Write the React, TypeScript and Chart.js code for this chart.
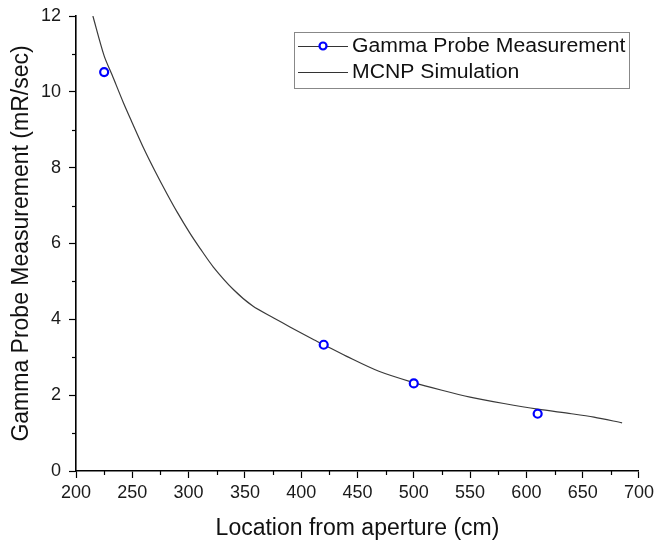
import React, { useEffect, useRef } from "react";
import { Chart, registerables } from "chart.js";

Chart.register(...registerables);

// Measured data
const measX = [225, 420, 500, 610];
const measY = [10.52, 3.33, 2.31, 1.51];

// MCNP simulation curve
const simX = [215, 225, 232, 242, 250, 260, 270, 281, 290, 301, 310, 322, 340, 357, 376, 390, 410, 420, 440, 469, 500, 525, 550, 580, 610, 640, 660, 685];
const simY = [12.0, 10.95, 10.45, 9.72, 9.18, 8.52, 7.92, 7.3, 6.82, 6.28, 5.88, 5.38, 4.78, 4.35, 4.03, 3.8, 3.48, 3.33, 3.03, 2.63, 2.33, 2.13, 1.95, 1.78, 1.63, 1.51, 1.42, 1.27];

const xTicks = [200, 250, 300, 350, 400, 450, 500, 550, 600, 650, 700];
const yTicks = [0, 2, 4, 6, 8, 10, 12];

const legendLabels = ["Gamma Probe Measurement", "MCNP Simulation"];
const xTitle = "Location from aperture (cm)";
const yTitle = "Gamma Probe Measurement (mR/sec)";

const FONT = "'Liberation Sans', Arial, sans-serif";

const minorTicksPlugin = {
  id: "minorTicks",
  afterDraw(chart: any) {
    const ctx = chart.ctx;
    const xs = chart.scales.x;
    const ys = chart.scales.y;
    ctx.save();
    ctx.strokeStyle = "#000";
    ctx.lineWidth = 1.2;
    for (let i = 0; i < xTicks.length - 1; i++) {
      const v = (xTicks[i] + xTicks[i + 1]) / 2;
      const px = Math.round(xs.getPixelForValue(v)) + 0.5;
      ctx.beginPath();
      ctx.moveTo(px, ys.bottom);
      ctx.lineTo(px, ys.bottom + 4);
      ctx.stroke();
    }
    for (let i = 0; i < yTicks.length - 1; i++) {
      const v = (yTicks[i] + yTicks[i + 1]) / 2;
      const py = Math.round(ys.getPixelForValue(v)) + 0.5;
      ctx.beginPath();
      ctx.moveTo(xs.left, py);
      ctx.lineTo(xs.left - 4, py);
      ctx.stroke();
    }
    ctx.restore();
  },
};

const legendPlugin = {
  id: "customLegend",
  afterDraw(chart: any) {
    const ctx = chart.ctx;
    ctx.save();
    const bx = 294, by = 32, bw = 335, bh = 56;
    ctx.strokeStyle = "#888";
    ctx.lineWidth = 1;
    ctx.strokeRect(bx + 0.5, by + 0.5, bw, bh);
    const rows = [46, 72];
    ctx.strokeStyle = "#333";
    ctx.lineWidth = 1;
    ctx.beginPath();
    ctx.moveTo(298, rows[0] + 0.5);
    ctx.lineTo(348, rows[0] + 0.5);
    ctx.stroke();
    ctx.fillStyle = "#fff";
    ctx.strokeStyle = "#0000ff";
    ctx.lineWidth = 2.2;
    ctx.beginPath();
    ctx.arc(323, rows[0], 3.5, 0, Math.PI * 2);
    ctx.fill();
    ctx.stroke();
    ctx.strokeStyle = "#333";
    ctx.lineWidth = 1;
    ctx.beginPath();
    ctx.moveTo(298, rows[1] + 0.5);
    ctx.lineTo(348, rows[1] + 0.5);
    ctx.stroke();
    ctx.fillStyle = "#111";
    ctx.font = `20px ${FONT}`;
    ctx.textBaseline = "middle";
    ctx.textAlign = "left";
    for (let i = 0; i < 2; i++) {
      ctx.save();
      ctx.translate(352, rows[i]);
      ctx.scale(1.06, 1);
      ctx.fillText(legendLabels[i], 0, 0);
      ctx.restore();
    }
    ctx.restore();
  },
};

export default function App() {
  const ref = useRef<HTMLCanvasElement | null>(null);
  useEffect(() => {
    if (!ref.current) return;
    const chart = new Chart(ref.current, {
      type: "scatter",
      data: {
        datasets: [
          {
            label: legendLabels[1],
            data: simX.map((x, i) => ({ x, y: simY[i] })),
            showLine: true,
            borderColor: "#3a3a3a",
            borderWidth: 1.2,
            pointRadius: 0,
            tension: 0.3,
            order: 2,
          },
          {
            label: legendLabels[0],
            data: measX.map((x, i) => ({ x, y: measY[i] })),
            showLine: false,
            pointRadius: 4,
            pointBorderWidth: 2.2,
            pointBorderColor: "#0000ff",
            pointBackgroundColor: "#fff",
            order: 1,
          },
        ],
      },
      options: {
        animation: false,
        responsive: true,
        maintainAspectRatio: false,
        layout: { padding: { left: 0, right: 17, top: 16, bottom: 0 } },
        plugins: { legend: { display: false }, tooltip: { enabled: false } },
        scales: {
          x: {
            type: "linear",
            min: 200,
            max: 700,
            afterBuildTicks: (s: any) => {
              s.ticks = xTicks.map((v) => ({ value: v }));
            },
            afterFit: (s: any) => {
              s.height = 77;
            },
            border: { display: true, color: "#000", width: 1.6 },
            grid: { drawOnChartArea: false, drawTicks: true, tickLength: 7, color: "#000", tickWidth: 1.2 },
            ticks: { color: "#1a1a1a", font: { family: FONT, size: 18 }, padding: 4, maxRotation: 0 },
            title: { display: true, text: xTitle, color: "#111", font: { family: FONT, size: 23 }, padding: { top: 0, bottom: 6 } },
          },
          y: {
            type: "linear",
            min: 0,
            max: 12,
            afterBuildTicks: (s: any) => {
              s.ticks = yTicks.map((v) => ({ value: v }));
            },
            afterFit: (s: any) => {
              s.width = 76;
              s.paddingTop = 0;
              s.paddingBottom = 0;
            },
            border: { display: true, color: "#000", width: 1.6 },
            grid: { drawOnChartArea: false, drawTicks: true, tickLength: 7, color: "#000", tickWidth: 1.2 },
            ticks: { color: "#1a1a1a", font: { family: FONT, size: 18 }, padding: 8 },
            title: { display: true, text: yTitle, color: "#111", font: { family: FONT, size: 23 }, padding: { top: 8, bottom: 0 } },
          },
        },
      },
      plugins: [minorTicksPlugin, legendPlugin],
    } as any);
    return () => chart.destroy();
  }, []);
  return (
    <div style={{ position: "fixed", left: 0, top: 0, width: 658, height: 548, background: "#fff" }}>
      <canvas ref={ref} />
    </div>
  );
}
